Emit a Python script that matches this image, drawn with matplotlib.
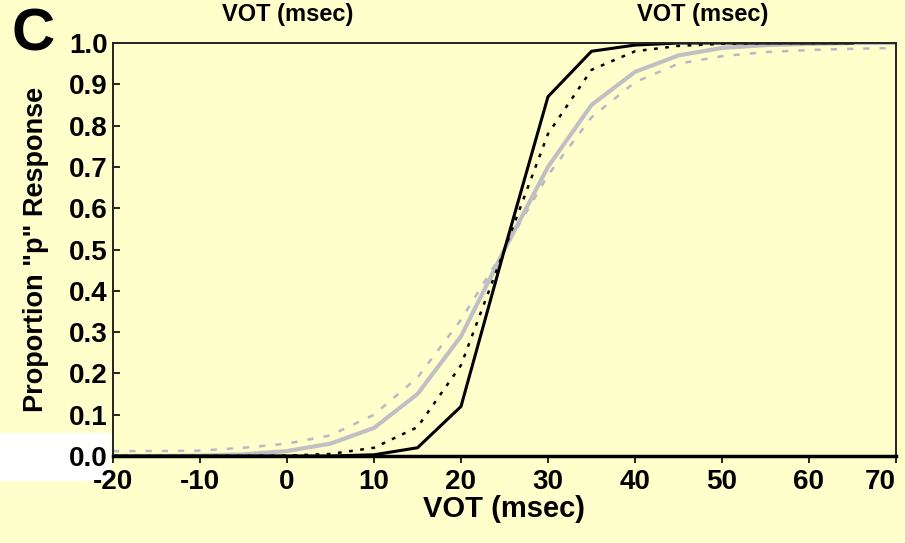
import matplotlib
matplotlib.use("Agg")

import matplotlib.pyplot as plt
import matplotlib.transforms as mtransforms

# VOT steps (msec)
vot = [-20, -15, -10, -5, 0, 5, 10, 15, 20, 25, 30, 35, 40, 45, 50, 55, 60, 65, 70]

# proportion "p" responses (black lines stop at 65 msec)
black_solid = [0.0, 0.0, 0.0, 0.0, 0.0, 0.0, 0.003, 0.02, 0.12, 0.50, 0.87,
               0.98, 0.995, 1.0, 1.0, 1.0, 1.0, 1.0]
black_dotted = [0.0, 0.0, 0.0, 0.0, 0.001, 0.005, 0.02, 0.07, 0.22, 0.50, 0.78,
                0.935, 0.98, 0.993, 0.998, 1.0, 1.0, 1.0]
gray_solid = [0.0, 0.0, 0.001, 0.004, 0.012, 0.03, 0.068, 0.15, 0.29, 0.50, 0.70,
              0.85, 0.93, 0.97, 0.988, 0.995, 0.998, 1.0, 1.0]
gray_dashed = [0.012, 0.012, 0.013, 0.02, 0.03, 0.05, 0.10, 0.19, 0.33, 0.50, 0.68,
               0.82, 0.905, 0.95, 0.968, 0.978, 0.983, 0.986, 0.988]

yticks = [0.0, 0.1, 0.2, 0.3, 0.4, 0.5, 0.6, 0.7, 0.8, 0.9, 1.0]
xticks = [-20, -10, 0, 10, 20, 30, 40, 50, 60, 70]

bg = "#FFFFCC"
font = ["Liberation Sans", "DejaVu Sans"]

fig = plt.figure(figsize=(9.05, 5.43), dpi=100, facecolor=bg)
ax = fig.add_axes([0.1249, 0.1602, 0.8651, 0.7606], facecolor=bg)

# white patch at bottom-left, behind everything
fig.add_artist(plt.Rectangle((0, 1 - 481 / 543), 111 / 905, 48 / 543,
                             transform=fig.transFigure, facecolor="white",
                             edgecolor="none", zorder=-5))

ax.plot(vot, gray_dashed, color="#B8B8C8", lw=1.8, ls=(0, (2.5, 4)))
ax.plot(vot, gray_solid, color="#C0C0C4", lw=3)
ax.plot(vot[:len(black_dotted)], black_dotted, color="black", lw=1.8, ls=(0, (1.5, 3)))
ax.plot(vot[:len(black_solid)], black_solid, color="black", lw=2.2)

ax.set_xlim(-20, 70)
ax.set_ylim(0, 1.0)
ax.set_xticks(xticks)
ax.set_xticklabels([str(t) for t in xticks])
ax.set_yticks(yticks)
ax.set_yticklabels(["%.1f" % t for t in yticks])

for lab in ax.get_xticklabels() + ax.get_yticklabels():
    lab.set_family(font)
    lab.set_fontweight("bold")
    lab.set_fontsize(20)

# x labels sit a little right of their ticks; last one is pushed in to fit
shift = mtransforms.ScaledTranslation(5 / 100, 0, fig.dpi_scale_trans)
xlabs = ax.get_xticklabels()
for lab in xlabs[:-1]:
    lab.set_transform(lab.get_transform() + shift)
xlabs[-1].set_horizontalalignment("right")
xlabs[-1].set_transform(xlabs[-1].get_transform()
                        + mtransforms.ScaledTranslation(2 / 100, 0, fig.dpi_scale_trans))

ax.tick_params(axis="x", direction="out", length=5, width=1.2, pad=4)
ax.tick_params(axis="y", direction="in", length=5, width=1.2, pad=4)

for side in ["top", "right", "left"]:
    ax.spines[side].set_linewidth(1.4)
    ax.spines[side].set_color("#222222")
ax.spines["bottom"].set_linewidth(2.5)

ax.set_xlabel("VOT (msec)", family=font, fontweight="bold", fontsize=21, labelpad=0)
ax.set_ylabel('Proportion "p" Response', family=font, fontweight="bold",
              fontsize=19.5)
ax.yaxis.set_label_coords((49 - 113) / 783, 0.5)

fig.text(288 / 905, 1 - 15 / 543, "VOT (msec)", family=font, fontweight="bold",
         fontsize=17, ha="center", va="center")
fig.text(703 / 905, 1 - 15 / 543, "VOT (msec)", family=font, fontweight="bold",
         fontsize=17, ha="center", va="center")
fig.text(33 / 905, 1 - 35 / 543, "C", family=font, fontweight="bold",
         fontsize=43, ha="center", va="center")

fig.savefig("out.png", dpi=100, facecolor=bg)
